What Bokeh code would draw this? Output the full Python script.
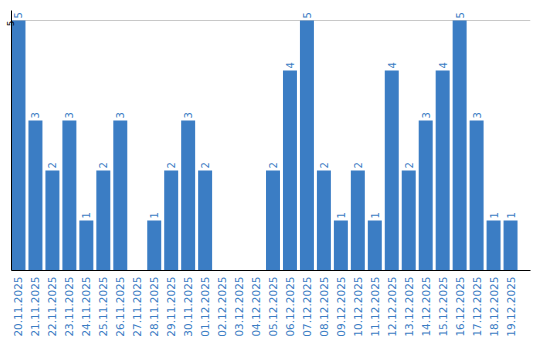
import math
from bokeh.plotting import figure
from bokeh.models import ColumnDataSource, FixedTicker, Range1d
from bokeh.core.properties import value
from bokeh.embed import file_html
from bokeh.resources import INLINE

dates = ["20.11.2025", "21.11.2025", "22.11.2025", "23.11.2025", "24.11.2025",
         "25.11.2025", "26.11.2025", "27.11.2025", "28.11.2025", "29.11.2025",
         "30.11.2025", "01.12.2025", "02.12.2025", "03.12.2025", "04.12.2025",
         "05.12.2025", "06.12.2025", "07.12.2025", "08.12.2025", "09.12.2025",
         "10.12.2025", "11.12.2025", "12.12.2025", "13.12.2025", "14.12.2025",
         "15.12.2025", "16.12.2025", "17.12.2025", "18.12.2025", "19.12.2025"]
counts = [5, 3, 2, 3, 1, 2, 3, 0, 1, 2,
          3, 2, 0, 0, 0, 2, 4, 5, 2, 1,
          2, 1, 4, 2, 3, 4, 5, 3, 1, 1]
y_ticks = [5]

BLUE = "#3b7dc4"
FONT = "DejaVu Sans"

xs = list(range(len(dates)))
src = ColumnDataSource(dict(x=xs, top=counts))
lab_x = [i for i, c in zip(xs, counts) if c > 0]
lab_y = [c for c in counts if c > 0]
lab_t = [str(c) for c in counts if c > 0]
lab_src = ColumnDataSource(dict(x=lab_x, y=lab_y, t=lab_t))

p = figure(width=540, height=340, output_backend="svg", toolbar_location=None,
           min_border_left=10, min_border_right=10, min_border_top=10,
           min_border_bottom=70,
           x_range=Range1d(-7 / 17, -7 / 17 + 520 / 17),
           y_range=Range1d(0, 5.2))
p.outline_line_color = None
p.background_fill_color = "white"
p.border_fill_color = "white"

p.vbar(x="x", top="top", bottom=0, width=14 / 17, source=src,
       fill_color=BLUE, line_color=None)
p.text(x="x", y="y", text="t", source=lab_src, angle=math.pi / 2,
       text_align="left", text_baseline="middle", y_offset=-2,
       text_color=BLUE, text_font=value(FONT), text_font_size="10px")

p.xgrid.grid_line_color = None
p.ygrid.ticker = FixedTicker(ticks=y_ticks)
p.ygrid.grid_line_color = "#c8c8c8"

xa = p.xaxis[0]
xa.ticker = FixedTicker(ticks=xs)
xa.major_label_overrides = {i: d for i, d in zip(xs, dates)}
xa.major_label_orientation = math.pi / 2
xa.major_label_text_color = BLUE
xa.major_label_text_font = FONT
xa.major_label_text_font_size = "10.5px"
xa.major_tick_line_color = None
xa.minor_tick_line_color = None
xa.major_tick_out = 0
xa.major_tick_in = 0
xa.major_label_standoff = 6
xa.axis_line_color = "black"

ya = p.yaxis[0]
ya.ticker = FixedTicker(ticks=y_ticks)
ya.major_label_orientation = math.pi / 2
ya.major_label_text_color = "black"
ya.major_label_text_font = FONT
ya.major_label_text_font_size = "9px"
ya.major_tick_line_color = None
ya.minor_tick_line_color = None
ya.major_tick_out = 0
ya.major_tick_in = 0
ya.major_label_standoff = 1
ya.axis_line_color = "black"

open("out.html", "w").write(file_html(p, INLINE))
